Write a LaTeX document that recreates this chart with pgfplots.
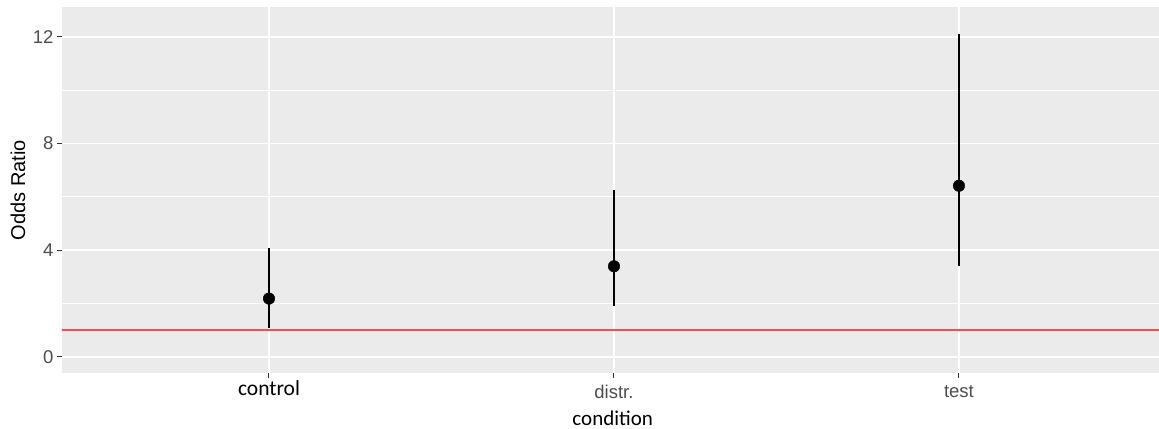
\documentclass[border=0pt]{standalone}
\usepackage{pgfplots}
\pgfplotsset{compat=1.18}
\usepackage{pgfplotstable}
\usepackage{fontspec}
\setmainfont{Liberation Sans}
\newfontfamily\carlito{Carlito}
\definecolor{panelbg}{RGB}{235,235,235}
\definecolor{ticklab}{RGB}{77,77,77}
\definecolor{tickcol}{RGB}{51,51,51}
\definecolor{refred}{RGB}{240,80,80}
\pgfplotstableread{
x y ep em
1 2.19 1.90 1.10
2 3.40 2.85 1.50
3 6.42 5.70 3.02
}\ordata
\begin{document}
\begin{tikzpicture}
\begin{axis}[
  scale only axis,
  width=1097bp, height=366bp,
  xmin=0.4, xmax=3.58,
  ymin=-0.6, ymax=13.12,
  axis background/.style={fill=panelbg},
  axis line style={draw=none},
  xtick pos=bottom, ytick pos=left,
  xtick={1,2,3},
  xticklabels={{\raisebox{0pt}[\dimexpr\height-5bp\relax]{\fontsize{21.5bp}{23bp}\selectfont\carlito\color{black}control}},{distr.},{test}},
  ytick={0,4,8,12},
  minor ytick={2,6,10},
  grid=both,
  major grid style={white, line width=1.8bp},
  minor grid style={white, line width=1bp},
  tick align=outside,
  major tick length=5bp,
  minor tick length=0bp,
  tick style={draw=tickcol, line width=1bp},
  /pgf/number format/assume math mode=true,
  ticklabel style={font=\fontsize{18.5bp}{20bp}\selectfont, text=ticklab},
  xticklabel style={yshift=-4bp},
  yticklabel style={xshift=0bp},
  xlabel={condition},
  ylabel={Odds Ratio},
  xlabel style={font=\fontsize{21bp}{23bp}\selectfont\carlito, at={(rel axis cs:0.502,0)}, anchor=center, yshift=-45bp},
  ylabel style={font=\fontsize{20bp}{22bp}\selectfont, at={(rel axis cs:0,0.5)}, anchor=center, yshift=44bp},
  clip=true,
]
\addplot[refred, line width=1.8bp, forget plot] coordinates {(0.3,1) (3.7,1)};
\addplot[only marks, mark=*, mark size=5.8bp, mark options={fill=black, draw=black},
  error bars/.cd, y dir=both, y explicit, error mark=none,
  error bar style={line width=1.8bp, black}]
  table[x=x, y=y, y error plus=ep, y error minus=em] {\ordata};
\end{axis}
\pgfresetboundingbox
\path[use as bounding box] (-62bp,-56bp) rectangle (1097bp,373bp);
\end{tikzpicture}
\end{document}
